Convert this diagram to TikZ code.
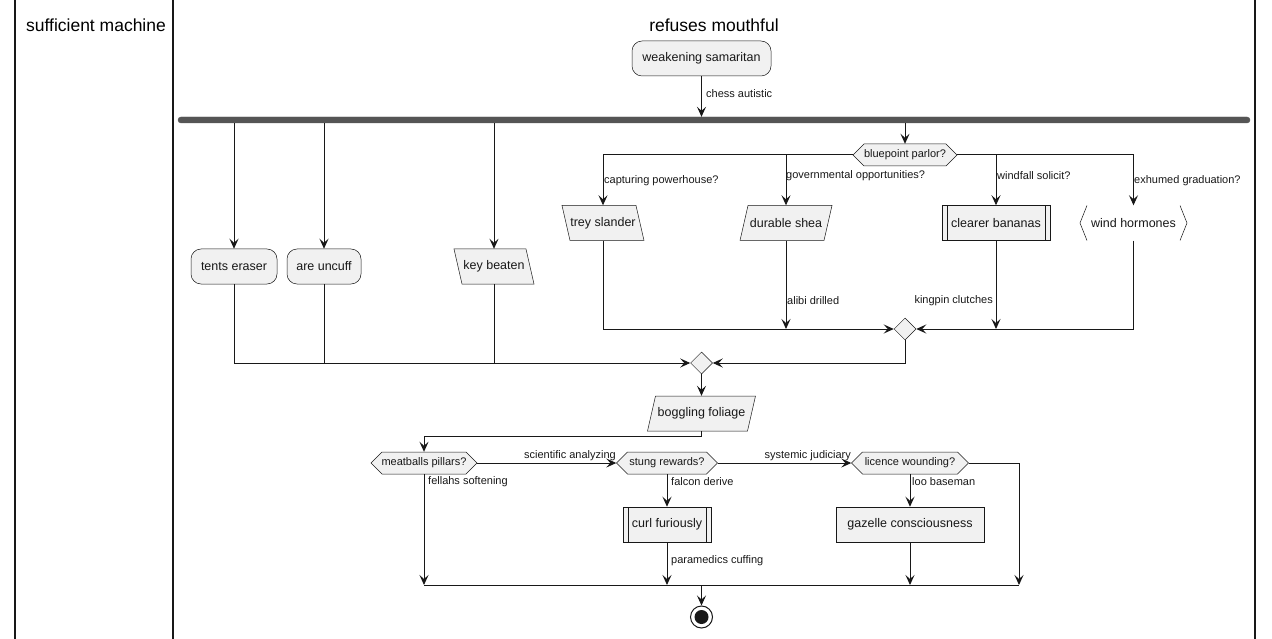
\documentclass[tikz,border=0pt]{standalone}
\usepackage{fontspec}
\setmainfont{Liberation Sans}
\usetikzlibrary{arrows.meta,shapes.geometric,calc}
\definecolor{boxfill}{HTML}{F1F1F1}
\definecolor{ink}{HTML}{181818}
\definecolor{forkgray}{HTML}{555555}
\newcommand{\actfont}{\fontsize{12.5}{14}\selectfont}
\newcommand{\lblfont}{\fontsize{11}{13}\selectfont}
\newcommand{\lanefont}{\fontsize{17.5}{20}\selectfont}
\tikzset{
  shapeline/.style={draw=ink,line width=0.5pt,fill=boxfill},
  plain/.style={inner sep=0pt,minimum height=35,font=\actfont,text=ink},
  roundact/.style={plain,draw=ink,line width=0.5pt,fill=boxfill,rounded corners=10pt},
  rectact/.style={plain,draw=ink,line width=0.5pt,fill=boxfill},
  merge/.style={diamond,draw=ink,line width=0.5pt,fill=boxfill,inner sep=0pt,minimum width=22,minimum height=22},
  conn/.style={draw=ink,line width=1pt},
  arr/.style={conn,-{Stealth[length=10pt,width=9pt,inset=4pt]}},
  lbl/.style={font=\lblfont,text=ink,inner sep=0pt,anchor=west},
  lane/.style={draw=ink,line width=1.5pt},
  lanetitle/.style={font=\lanefont,text=black,inner sep=0pt},
}
% slanted input/output box: name, cx, cy, half width, slant, text
\newcommand{\slantbox}[6]{%
  \draw[shapeline] ({#2-#4-(#5)},{#3-17.5}) -- ({#2+#4-(#5)},{#3-17.5})
    -- ({#2+#4+(#5)},{#3+17.5}) -- ({#2-#4+(#5)},{#3+17.5}) -- cycle;
  \node[plain,minimum width={2*#4}] (#1) at (#2,#3) {#6};}
% decision hexagon: name, cx, cy, half width, text
\newcommand{\hexbox}[5]{%
  \draw[shapeline] ({#2-#4},#3) -- ({#2-#4+11},{#3-11}) -- ({#2+#4-11},{#3-11})
    -- ({#2+#4},#3) -- ({#2+#4-11},{#3+11}) -- ({#2-#4+11},{#3+11}) -- cycle;
  \node[plain,minimum width={2*#4},minimum height=22,font=\lblfont] (#1) at (#2,#3) {#5};}
% sub-process box with double side bars: name, cx, cy, half width, text
\newcommand{\subbox}[5]{%
  \node[rectact,minimum width={2*#4}] (#1) at (#2,#3) {#5};
  \draw[draw=ink,line width=0.5pt] ({#2-#4+5},{#3-17.5}) -- ({#2-#4+5},{#3+17.5})
    ({#2+#4-5},{#3-17.5}) -- ({#2+#4-5},{#3+17.5});}
\begin{document}
\begin{tikzpicture}[x=1pt,y=-1pt]
\useasboundingbox (0,0) rectangle (1272,639);
% swimlanes
\draw[lane] (15,0) -- (15,639);
\draw[lane] (173,0) -- (173,639);
\draw[lane] (1255,0) -- (1255,639);
\node[lanetitle] (laneA) at (96,25) {sufficient machine};
\node[lanetitle] (laneB) at (714,25) {refuses mouthful};

% start activity and fork bar
\node[roundact,minimum width=139] (ws) at (701.5,58.5) {weakening samaritan};
\node[draw=forkgray,fill=forkgray,rounded corners=3pt,minimum width=1072,minimum height=6,inner sep=0pt] (fork) at (714,120) {};
\draw[arr] (ws.south) -- (ws.south |- fork.north);
\node[lbl] (lchess) at (706,94) {chess autistic};

% parallel branches
\node[roundact,minimum width=86] (te) at (234,266.5) {tents eraser};
\node[roundact,minimum width=74] (uc) at (324,266.5) {are uncuff};
\slantbox{kb}{494}{266.5}{36}{4}{key beaten}
\draw[arr] (fork.south -| te) -- (te.north);
\draw[arr] (fork.south -| uc) -- (uc.north);
\draw[arr] (fork.south -| kb) -- (kb.north);

% switch on bluepoint parlor
\hexbox{bp}{905}{155}{52}{bluepoint parlor?}
\draw[arr] (fork.south -| bp) -- (bp.north);
\slantbox{ts}{603}{223}{37}{4}{trey slander}
\slantbox{ds}{786}{223}{42}{-4}{durable shea}
\subbox{cb}{996}{223}{54}{clearer bananas}
\draw[shapeline,fill=none] (1087,205.5) -- (1080,223) -- (1087,240.5)
  (1180,205.5) -- (1187,223) -- (1180,240.5);
\node[plain,minimum width=107] (wh) at (1133.5,223) {wind hormones};
\draw[arr] (bp.west) -| (ts.north);
\draw[arr] (ds |- bp.west) -- (ds.north);
\draw[arr] (bp.east) -| (wh.north);
\draw[arr] (cb |- bp.east) -- (cb.north);
\node[lbl] (lcap) at (604,181) {capturing powerhouse?};
\node[lbl] (lgov) at (786,176) {governmental opportunities?};
\node[lbl] (lwin) at (997,176) {windfall solicit?};
\node[lbl] (lexh) at (1134,181) {exhumed graduation?};

% merge of the switch
\node[merge] (m1) at (905,329) {};
\draw[arr] (ts.south) |- (m1.west);
\draw[arr] (ds.south) -- (ds |- m1.west);
\draw[arr] (wh.south) |- (m1.east);
\draw[arr] (cb.south) -- (cb |- m1.east);
\node[lbl] (lalibi) at (787,301) {alibi drilled};
\node[lbl,anchor=east] (lking) at (993,301) {kingpin clutches};

% join of the parallel branches
\node[merge] (m2) at (701.5,363) {};
\draw[arr] (m1.south) |- (m2.east);
\draw[arr] (te.south) |- (m2.west);
\draw[conn] (uc.south) -- (uc |- m2.west);
\draw[conn] (kb.south) -- (kb |- m2.west);

% output and decision chain
\slantbox{bf}{701.5}{413.5}{50}{-4}{boggling foliage}
\draw[arr] (m2.south) -- (bf.north);
\hexbox{mp}{424}{463}{53}{meatballs pillars?}
\hexbox{sr}{667}{463}{50.5}{stung rewards?}
\hexbox{lw}{910}{463}{58.5}{licence wounding?}
\draw[arr] (bf.south) -- ++(0,5) -| (mp.north);
\draw[arr] (mp.east) -- (sr.west);
\draw[arr] (sr.east) -- (lw.west);
\node[lbl,anchor=east] (lsci) at (616,456) {scientific analyzing};
\node[lbl,anchor=east] (lsys) at (851,456) {systemic judiciary};

\subbox{cf}{667}{524.5}{44}{curl furiously}
\node[rectact,minimum width=148] (gc) at (910,524.5) {gazelle consciousness};
\draw[arr] (sr.south) -- (cf.north);
\draw[arr] (lw.south) -- (gc.north);
\node[lbl] (lfal) at (671,482) {falcon derive};
\node[lbl] (lloo) at (912,482) {loo baseman};
\node[lbl] (lfel) at (428,482) {fellahs softening};
\node[lbl] (lpara) at (671,561) {paramedics cuffing};

% final merge and stop
\coordinate (jl) at (424,585);
\coordinate (jr) at (1019,585);
\draw[conn] (jl) -- (jr);
\draw[arr] (mp.south) -- (jl);
\draw[arr] (cf.south) -- (cf |- jl);
\draw[arr] (gc.south) -- (gc |- jl);
\draw[arr] (lw.east) -| (jr);
\node[circle,draw=ink,line width=1pt,fill=white,minimum size=22,inner sep=0pt] (stop) at (701.5,617) {};
\fill[ink] (stop.center) circle (7);
\draw[arr] (stop |- jl) -- (stop.north);
\end{tikzpicture}
\end{document}
